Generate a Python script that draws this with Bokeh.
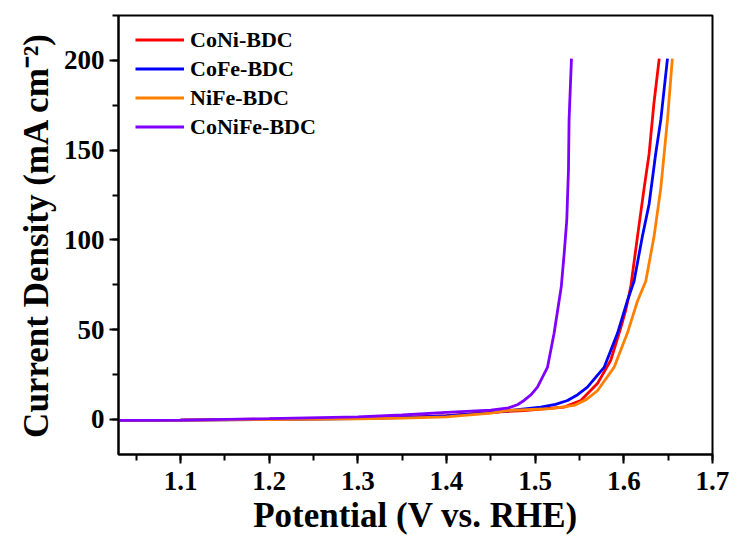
from bokeh.plotting import figure
from bokeh.models import Range1d, SingleIntervalTicker, Legend, LegendItem
from bokeh.embed import file_html
from bokeh.resources import INLINE

# ---- data ----
series_names = ["CoNi-BDC", "CoFe-BDC", "NiFe-BDC", "CoNiFe-BDC"]
series_colors = ["#FF0000", "#0000FF", "#FF8000", "#8000FF"]

coni_x = [1.03, 1.10, 1.20, 1.30, 1.35, 1.40, 1.45, 1.4875, 1.5326, 1.5515, 1.5703,
          1.5853, 1.5966, 1.6023, 1.6079, 1.6155, 1.623, 1.6286, 1.634, 1.640]
coni_y = [-0.5, -0.3, 0.2, 0.7, 1.2, 2.2, 4.0, 5.0, 6.9, 10.6, 20,
          33, 51, 61, 74, 102, 129, 148, 176, 201]

cofe_x = [1.03, 1.10, 1.20, 1.30, 1.35, 1.40, 1.45, 1.4725, 1.5063, 1.5230, 1.5365, 1.548, 1.559,
          1.5778, 1.5929, 1.604, 1.6116, 1.621, 1.6286, 1.636, 1.6418, 1.6493]
cofe_y = [-0.5, -0.4, 0.0, 0.5, 1.0, 2.0, 3.8, 5.0, 6.9, 8.4, 10.6, 13.8, 18,
          29, 48, 66, 77, 102, 120, 148, 167, 201]

nife_x = [1.03, 1.10, 1.20, 1.30, 1.35, 1.40, 1.45, 1.4687, 1.5176, 1.5439, 1.558, 1.5703,
          1.589, 1.604, 1.6155, 1.6248, 1.6342, 1.6418, 1.6493, 1.6548]
nife_y = [-0.5, -0.4, 0.0, 0.4, 0.8, 1.5, 3.5, 5.0, 6.0, 7.8, 11.2, 16,
          29, 48, 66, 77, 102, 129, 167, 201]

conife_x = [1.03, 1.10, 1.20, 1.30, 1.35, 1.40, 1.45, 1.47, 1.48, 1.4875, 1.4955, 1.5026, 1.5139,
            1.5214, 1.527, 1.5295, 1.5327, 1.5357, 1.5376, 1.5383, 1.541]
conife_y = [-0.5, -0.3, 0.5, 1.5, 2.5, 4.0, 5.2, 6.5, 8.2, 10.6, 13.8, 18, 29,
            48, 66, 74, 92, 111, 139, 167, 201]

xs = [coni_x, cofe_x, nife_x, conife_x]
ys = [coni_y, cofe_y, nife_y, conife_y]

FONT = "Liberation Serif"

p = figure(width=736, height=537, output_backend="svg", toolbar_location=None,
           x_range=Range1d(1.03, 1.7001), y_range=Range1d(-19.5, 225),
           min_border_left=118, min_border_right=24, min_border_top=15, min_border_bottom=83)

renderers = []
for x, y, c in zip(xs, ys, series_colors):
    r = p.line(x, y, line_color=c, line_width=2.8)
    renderers.append(r)

p.xgrid.visible = False
p.ygrid.visible = False
p.outline_line_color = "black"
p.outline_line_width = 2
p.outline_line_alpha = 1

p.xaxis.ticker = SingleIntervalTicker(interval=0.1, num_minor_ticks=2)
p.yaxis.ticker = SingleIntervalTicker(interval=50, num_minor_ticks=2)

for ax in (p.xaxis[0], p.yaxis[0]):
    ax.axis_line_width = 2
    ax.axis_line_color = "black"
    ax.major_tick_line_width = 2
    ax.minor_tick_line_width = 2
    ax.major_tick_out = 9
    ax.major_tick_in = 0
    ax.minor_tick_out = 6
    ax.minor_tick_in = 0
    ax.major_label_text_font = FONT
    ax.major_label_text_font_style = "bold"
    ax.major_label_text_font_size = "27px"
    ax.major_label_text_color = "black"
    ax.axis_label_text_font = FONT
    ax.axis_label_text_font_style = "bold"
    ax.axis_label_text_font_size = "35px"
    ax.axis_label_text_color = "black"

p.xaxis.axis_label = "Potential (V vs. RHE)"
p.yaxis.axis_label = "Current Density (mA cm\u207B\u00B2)"
p.xaxis.major_label_standoff = 8
p.xaxis.axis_label_standoff = 3
p.yaxis.major_label_standoff = 5
p.yaxis.axis_label_standoff = 5

legend = Legend(items=[LegendItem(label=n, renderers=[r]) for n, r in zip(series_names, renderers)],
                location=(17, 314))
legend.border_line_alpha = 0
legend.background_fill_alpha = 0
legend.padding = 0
legend.margin = 0
legend.spacing = 2
legend.glyph_width = 49
legend.glyph_height = 27
legend.label_height = 27
legend.label_standoff = 6
legend.label_text_font = FONT
legend.label_text_font_style = "bold"
legend.label_text_font_size = "22px"
legend.label_text_color = "black"
p.add_layout(legend)

open("out.html", "w").write(file_html(p, INLINE))
